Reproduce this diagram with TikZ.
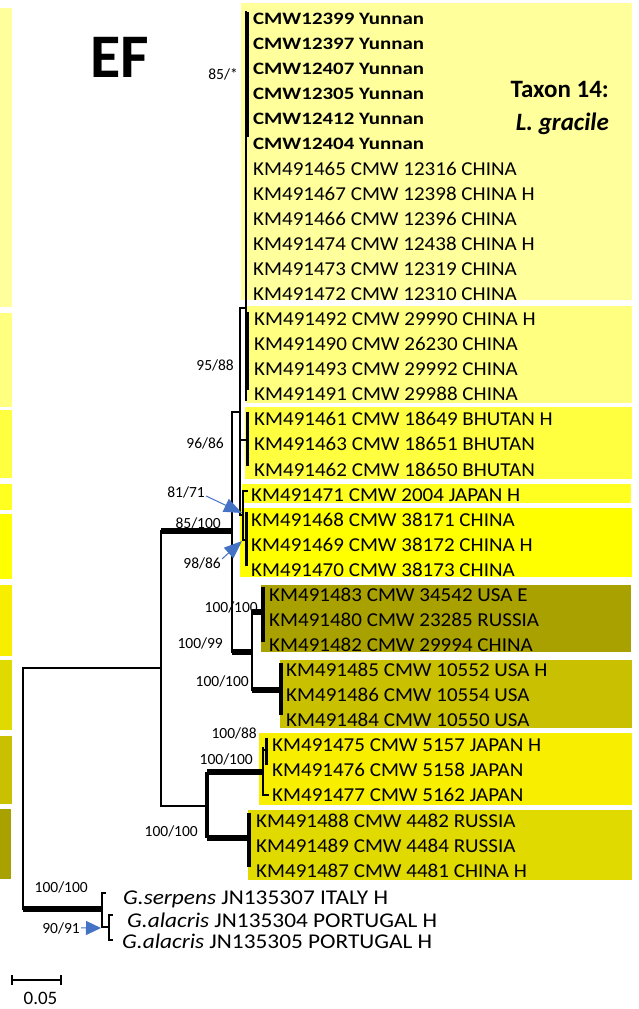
\documentclass[tikz,border=0pt]{standalone}
\usepackage{fontspec}
\setmainfont{Carlito}
\newfontfamily\lab[FakeStretch=1.067]{Carlito}
\newfontfamily\labb[FakeStretch=1.2]{Carlito}
\newfontfamily\ogf[FakeStretch=1.11]{Carlito}
\usetikzlibrary{arrows.meta}
\definecolor{cA}{HTML}{FFFF9C}
\definecolor{cB}{HTML}{FFFF80}
\definecolor{cC}{HTML}{FFFF40}
\definecolor{cD}{HTML}{FFFF20}
\definecolor{cE}{HTML}{FFFF00}
\definecolor{cF}{HTML}{A9A100}
\definecolor{cG}{HTML}{C8C000}
\definecolor{cH}{HTML}{F8EE00}
\definecolor{cI}{HTML}{E0DA00}
\definecolor{arrowblue}{HTML}{4472C4}
\tikzset{
  tip/.style={anchor=base west, inner sep=0pt, font=\lab\fontsize{19.7}{20}\selectfont},
  tipb/.style={anchor=base west, inner sep=0pt, font=\labb\bfseries\fontsize{17.4}{18}\selectfont},
  ogt/.style={anchor=base west, inner sep=0pt, font=\ogf\fontsize{21}{22}\selectfont},
  bs/.style={anchor=base east, inner sep=0pt, font=\fontsize{15.5}{16}\selectfont, text=black},
  br/.style={line width=2pt, line cap=rect},
  thk/.style={line width=6.5pt},
  bar/.style={line width=3.5pt},
  arr/.style={draw=arrowblue, line width=1pt, -{Triangle[length=18pt,width=14pt]}},
}
\begin{document}
\begin{tikzpicture}[x=1pt,y=-1pt]
\useasboundingbox (0,0) rectangle (639,1009);
% left strips
\fill[cA] (0,8) rectangle (12,307);
\fill[cB] (0,313) rectangle (12,407);
\fill[cC] (0,410) rectangle (12,478);
\fill[cD] (0,484) rectangle (12,510);
\fill[cE] (0,514) rectangle (12,579);
\fill[cH] (0,585) rectangle (12,656);
\fill[cI] (0,660) rectangle (12,730);
\fill[cG] (0,736) rectangle (12,804);
\fill[cF] (0,809) rectangle (11,879);
% clade blocks
\fill[cA] (241,3) rectangle (632,300);
\fill[cB] (246,306) rectangle (632,403);
\fill[cC] (245,407) rectangle (632,479);
\fill[cD] (242,484) rectangle (631,503);
\fill[cE] (240,508) rectangle (632,577);
\fill[cF] (261,585) rectangle (631,652);
\fill[cG] (280,660) rectangle (632,728);
\fill[cH] (259,733) rectangle (632,805);
\fill[cI] (248,810) rectangle (632,880);
% titles
\node[anchor=base, inner sep=0pt, font=\bfseries\fontsize{62}{62}\selectfont] (ef) at (120,77) {EF};
\node[anchor=base east, inner sep=0pt, font=\bfseries\fontsize{25}{26}\selectfont] (tx) at (609,97) {Taxon 14:};
\node[anchor=base east, inner sep=0pt, font=\bfseries\itshape\fontsize{25}{26}\selectfont] (sp) at (609,130) {L. gracile};
% tip labels
\foreach \i/\t in {1/CMW12399,2/CMW12397,3/CMW12407,4/CMW12305,5/CMW12412,6/CMW12404}
  \node[tipb] (t\i) at (253,{18.5+(\i-1)*25.07+5.6}) {\t\ Yunnan};
\foreach \i/\x/\t in {
  7/253/KM491465 CMW 12316 CHINA,
  8/253/KM491467 CMW 12398 CHINA H,
  9/253/KM491466 CMW 12396 CHINA,
  10/253/KM491474 CMW 12438 CHINA H,
  11/253/KM491473 CMW 12319 CHINA,
  12/253/KM491472 CMW 12310 CHINA,
  13/254/KM491492 CMW 29990 CHINA H,
  14/254/KM491490 CMW 26230 CHINA,
  15/254/KM491493 CMW 29992 CHINA,
  16/254/KM491491 CMW 29988 CHINA,
  17/254/KM491461 CMW 18649 BHUTAN H,
  18/254/KM491463 CMW 18651 BHUTAN,
  19/254/KM491462 CMW 18650 BHUTAN,
  20/251/KM491471 CMW 2004 JAPAN H,
  21/251/KM491468 CMW 38171 CHINA,
  22/251/KM491469 CMW 38172 CHINA H,
  23/251/KM491470 CMW 38173 CHINA,
  24/269/KM491483 CMW 34542 USA E,
  25/269/KM491480 CMW 23285 RUSSIA,
  26/269/KM491482 CMW 29994 CHINA,
  27/286/KM491485 CMW 10552 USA H,
  28/286/KM491486 CMW 10554 USA,
  29/286/KM491484 CMW 10550 USA,
  30/272/KM491475 CMW 5157 JAPAN H,
  31/272/KM491476 CMW 5158 JAPAN,
  32/272/KM491477 CMW 5162 JAPAN,
  33/256/KM491488 CMW 4482 RUSSIA,
  34/256/KM491489 CMW 4484 RUSSIA,
  35/256/KM491487 CMW 4481 CHINA H}
  \node[tip] (t\i) at (\x,{18.5+(\i-1)*25.07+6.3}) {\t};
\node[ogt] (o1) at (123,904) {\textit{G.serpens} JN135307 ITALY H};
\node[ogt] (o2) at (127,927) {\textit{G.alacris} JN135304 PORTUGAL H};
\node[ogt] (o3) at (122,948) {\textit{G.alacris} JN135305 PORTUGAL H};
% tree nodes
\coordinate (R) at (23,789);
\coordinate (N1) at (161,668);
\coordinate (OG) at (102,909);
\coordinate (X) at (232,531);
\coordinate (Y) at (240,412);
\coordinate (W) at (246,308);
\coordinate (Wt) at (246,12);
\coordinate (Wb) at (246,400);
\coordinate (P85t) at (247.5,12);
\coordinate (P85b) at (247.5,137);
\coordinate (Bt) at (247.5,312);
\coordinate (Bb) at (247.5,390);
\coordinate (C) at (247,440);
\coordinate (Ct) at (247.5,412);
\coordinate (Cb) at (247.5,466);
\coordinate (V) at (243,515);
\coordinate (Vt) at (243,491);
\coordinate (Vb) at (243,540);
\coordinate (T20) at (247,491);
\coordinate (E) at (246.5,540);
\coordinate (Et) at (246.5,512);
\coordinate (Eb) at (246.5,566);
\coordinate (Z) at (252,652);
\coordinate (F) at (263,612);
\coordinate (Ft) at (263,587);
\coordinate (Fb) at (263,642);
\coordinate (G) at (281,690);
\coordinate (Gt) at (281,663);
\coordinate (Gb) at (281,715);
\coordinate (L) at (207,806);
\coordinate (J) at (263,772);
\coordinate (Jt) at (263,748);
\coordinate (Jb) at (263,795);
\coordinate (T32) at (268,795);
\coordinate (K) at (266.5,750);
\coordinate (Kt) at (266.5,738);
\coordinate (Kb) at (266.5,765);
\coordinate (I) at (249,838);
\coordinate (It) at (249,813);
\coordinate (Ib) at (249,867);
\coordinate (OGt) at (102,893);
\coordinate (OGb) at (102,927);
\coordinate (T36) at (105,893);
\coordinate (S) at (109,927);
\coordinate (St) at (109,915);
\coordinate (Sb) at (109,940);
\coordinate (T37) at (112,915);
\coordinate (T38) at (112,940);
% branches
\draw[br] (R) -- (R |- N1) -- (N1);
\draw[br] (R) -- (R |- OG);
\draw[thk] (R |- OG) -- (OG);
\draw[br] (N1) -- (N1 |- X);
\draw[br] (N1) -- (N1 |- L) -- (L);
\draw[br] (X) -- (X |- Y) -- (Y);
\draw[br] (X) -- (X |- Z);
\draw[thk] (X |- Z) -- (Z);
\draw[br] (Y) -- (Y |- W) -- (W);
\draw[br] (Wt) -- (Wb);
\draw[bar] (P85t) -- (P85b);
\draw[bar] (Bt) -- (Bb);
\draw[br] (Y) -- (Y |- C) -- (C);
\draw[bar] (Ct) -- (Cb);
\draw[br] (Y) -- (Y |- V) -- (V);
\draw[br] (Vt) -- (Vb);
\draw[br] (Vt) -- (T20);
\draw[br] (Vb) -- (E);
\draw[bar] (Et) -- (Eb);
\draw[br] (Z) -- (Z |- F);
\draw[thk] (Z |- F) -- (F);
\draw[bar] (Ft) -- (Fb);
\draw[br] (Z) -- (Z |- G);
\draw[thk] (Z |- G) -- (G);
\draw[bar] (Gt) -- (Gb);
\draw[bar] (L |- J) -- (L |- I);
\draw[thk] (L |- J) -- (J);
\draw[br] (Jt) -- (Jb) -- (T32);
\draw[br] (J |- K) -- (K);
\draw[bar] (Kt) -- (Kb);
\draw[thk] (L |- I) -- (I);
\draw[bar] (It) -- (Ib);
\draw[br] (OGt) -- (OGb);
\draw[br] (OGt) -- (T36);
\draw[br] (OGb) -- (S);
\draw[br] (St) -- (Sb);
\draw[br] (St) -- (T37);
\draw[br] (Sb) -- (T38);
% support values
\node[bs] (b1) at (238,79) {85/*};
\node[bs] (b2) at (234,370) {95/88};
\node[bs] (b3) at (224,448) {96/86};
\node[bs] (b4) at (205,497) {81/71};
\node[bs] (b5) at (221,528) {85/100};
\node[bs] (b6) at (221,568) {98/86};
\node[bs] (b7) at (258,612) {100/100};
\node[bs] (b8) at (223,648) {100/99};
\node[bs] (b9) at (249,686) {100/100};
\node[bs] (b10) at (257,738) {100/88};
\node[bs] (b11) at (253,764) {100/100};
\node[bs] (b12) at (198,836) {100/100};
\node[bs] (b13) at (88,892) {100/100};
\node[bs] (b14) at (80,933) {90/91};
\draw[thk] (N1 |- X) -- (X);
% arrows
\coordinate (a81) at (242,513);
\coordinate (a98) at (242,541);
\coordinate (a90) at (101,928);
\draw[arr] ([xshift=1pt,yshift=-4pt]b4.east) -- (a81);
\draw[arr] ([xshift=1pt,yshift=4pt]b6.east) -- (a98);
\draw[arr, -{Triangle[length=15pt,width=14pt]}] ([xshift=1pt]b14.east) -- (a90);
% scale bar
\coordinate (s1) at (12,980);
\coordinate (s2) at (61,980);
\draw[line width=2.5pt] (s1) -- (s2);
\draw[line width=2.5pt] ([yshift=-5pt]s1) -- ([yshift=5pt]s1);
\draw[line width=2.5pt] ([yshift=-5pt]s2) -- ([yshift=5pt]s2);
\node[anchor=base, inner sep=0pt, font=\fontsize{19}{20}\selectfont] (sl) at (40.5,1004) {0.05};
\end{tikzpicture}
\end{document}
